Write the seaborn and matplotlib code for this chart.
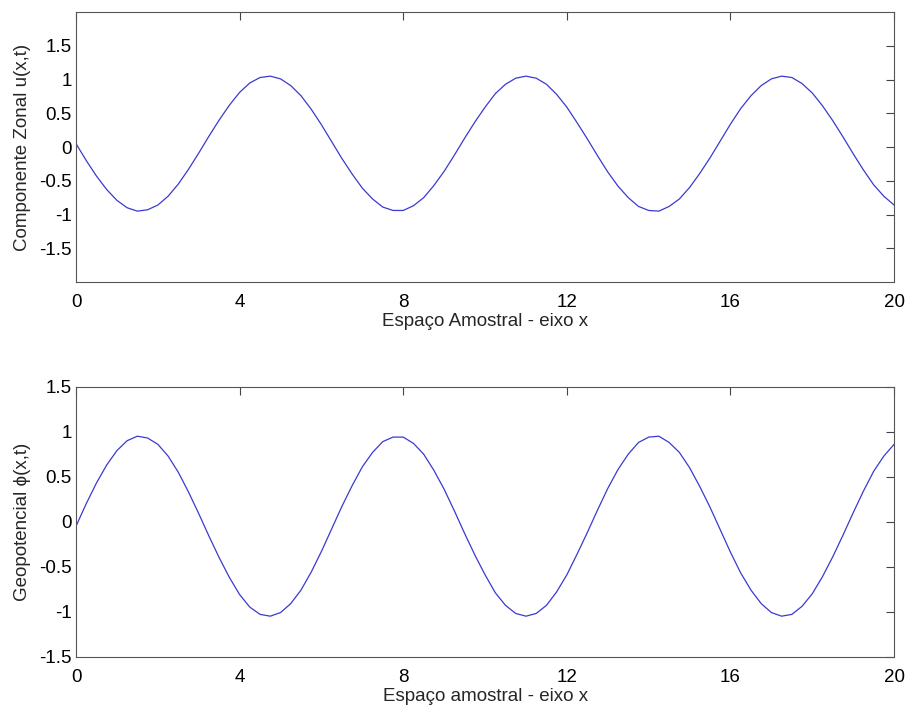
import numpy as np
import pandas as pd
import matplotlib
matplotlib.use("Agg")
import matplotlib.pyplot as plt
import seaborn as sns

# Valores (passo de 0.25 em x)
x_vals = [i * 0.25 for i in range(81)]

u_vals = [0.05, -0.20, -0.43, -0.63, -0.79, -0.90, -0.95, -0.93, -0.86, -0.73,
          -0.55, -0.33, -0.09, 0.16, 0.40, 0.62, 0.81, 0.95, 1.03, 1.05,
          1.01, 0.91, 0.76, 0.56, 0.33, 0.08, -0.17, -0.40, -0.61, -0.77,
          -0.89, -0.94, -0.94, -0.87, -0.75, -0.57, -0.36, -0.12, 0.13, 0.37,
          0.59, 0.79, 0.93, 1.02, 1.05, 1.02, 0.93, 0.78, 0.59, 0.36,
          0.12, -0.13, -0.37, -0.58, -0.75, -0.88, -0.94, -0.95, -0.88, -0.77,
          -0.60, -0.39, -0.16, 0.09, 0.34, 0.57, 0.76, 0.91, 1.01, 1.05,
          1.03, 0.94, 0.80, 0.61, 0.39, 0.15, -0.10, -0.34, -0.56, -0.73,
          -0.86]

phi_vals = [-0.05, 0.20, 0.43, 0.63, 0.79, 0.90, 0.95, 0.93, 0.86, 0.73,
            0.55, 0.33, 0.09, -0.16, -0.40, -0.62, -0.81, -0.95, -1.03, -1.05,
            -1.01, -0.91, -0.76, -0.56, -0.33, -0.08, 0.17, 0.40, 0.61, 0.77,
            0.89, 0.94, 0.94, 0.87, 0.75, 0.57, 0.36, 0.12, -0.13, -0.37,
            -0.59, -0.79, -0.93, -1.02, -1.05, -1.02, -0.93, -0.78, -0.59, -0.36,
            -0.12, 0.13, 0.37, 0.58, 0.75, 0.88, 0.94, 0.95, 0.88, 0.77,
            0.60, 0.39, 0.16, -0.09, -0.34, -0.57, -0.76, -0.91, -1.01, -1.05,
            -1.03, -0.94, -0.80, -0.61, -0.39, -0.15, 0.10, 0.34, 0.56, 0.73,
            0.86]

x_ticks = [0, 4, 8, 12, 16, 20]
y_ticks_top = [-1.5, -1, -0.5, 0, 0.5, 1, 1.5]
y_ticks_bot = [-1.5, -1, -0.5, 0, 0.5, 1, 1.5]

df = pd.DataFrame({"x": x_vals, "u": u_vals, "phi": phi_vals})

sns.set_style("white")
plt.rcParams["font.family"] = ["Liberation Sans", "DejaVu Sans"]
fs = 13.5

fig = plt.figure(figsize=(9.07, 7.08), dpi=100)
ax1 = fig.add_axes([0.0838, 0.6017, 0.902, 0.3813])
ax2 = fig.add_axes([0.0838, 0.0725, 0.902, 0.3813])

sns.lineplot(data=df, x="x", y="u", ax=ax1, color="#3a3ad0", lw=0.9)
sns.lineplot(data=df, x="x", y="phi", ax=ax2, color="#3a3ad0", lw=0.9)


def fmt(v):
    return f"{v:g}"


for ax, yl, yt in [(ax1, (-2, 2), y_ticks_top), (ax2, (-1.5, 1.5), y_ticks_bot)]:
    ax.set_xlim(0, 20)
    ax.set_ylim(*yl)
    ax.set_xticks(x_ticks)
    ax.set_xticklabels([fmt(t) for t in x_ticks])
    ax.set_yticks(yt)
    ax.set_yticklabels([fmt(t) for t in yt])
    ax.tick_params(direction="in", length=6, width=0.8, top=True, right=True,
                   colors="#444444", labelcolor="black", labelsize=fs)
    ax.tick_params(axis="x", pad=9)
    ax.tick_params(axis="y", pad=3)
    for s in ax.spines.values():
        s.set_visible(True)
        s.set_color("#555555")
        s.set_linewidth(0.8)

ax1.set_xlabel("Espaço Amostral - eixo x", fontsize=fs, labelpad=1)
ax1.set_ylabel("Componente Zonal u(x,t)", fontsize=fs, labelpad=6)
ax2.set_xlabel("Espaço amostral - eixo x", fontsize=fs, labelpad=1)
ax2.set_ylabel("Geopotencial \u03d5(x,t)", fontsize=fs, labelpad=6)

fig.savefig("out.png", dpi=100)
